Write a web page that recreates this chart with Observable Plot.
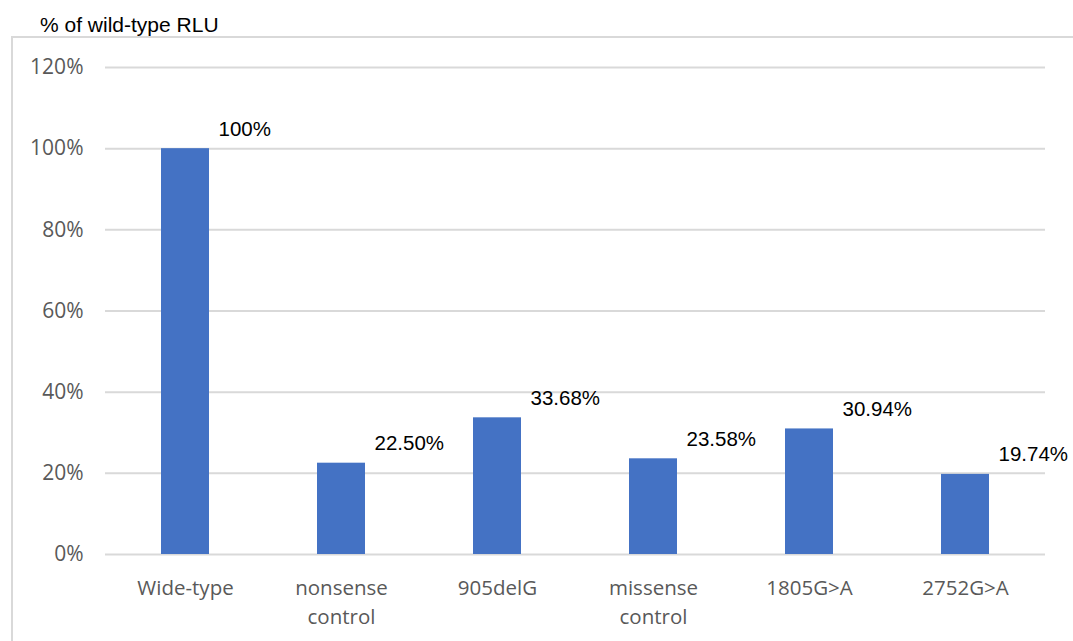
<!DOCTYPE html>
<html>
<head>
<meta charset="utf-8">
<script src="https://cdn.jsdelivr.net/npm/d3@7"></script>
<script src="https://cdn.jsdelivr.net/npm/@observablehq/plot@0.6"></script>
<style>
  html, body { margin: 0; padding: 0; background: #fff; overflow: hidden; }
  #wrap { position: relative; width: 1073px; height: 641px; }
  #frame { position: absolute; left: 11px; top: 36px; width: 1100px; height: 700px; border: 2px solid #d9d9d9; box-sizing: border-box; }
  #title { position: absolute; left: 40px; top: 14px; font-family: "Liberation Sans", Arial, sans-serif; font-size: 21px; line-height: 21px; color: #000; white-space: nowrap; }
  #chart { position: absolute; left: 0; top: 0; }
</style>
</head>
<body>
<div id="wrap">
  <div id="frame"></div>
  <div id="title">% of wild-type RLU</div>
  <div id="chart"></div>
</div>
<script>
const categories = ["Wide-type", "nonsense\ncontrol", "905delG", "missense\ncontrol", "1805G>A", "2752G>A"];
const values = [100, 22.5, 33.68, 23.58, 30.94, 19.74];
const valueLabels = ["100%", "22.50%", "33.68%", "23.58%", "30.94%", "19.74%"];
const yTicks = [0, 20, 40, 60, 80, 100, 120];

const data = categories.map((c, i) => ({category: c, value: values[i], label: valueLabels[i]}));

const chart = Plot.plot({
  width: 1073,
  height: 641,
  marginLeft: 105,
  marginRight: 28,
  marginTop: 67,
  marginBottom: 87,
  style: {background: "transparent", overflow: "visible"},
  x: {domain: categories, paddingInner: 0.69, paddingOuter: 0.345, label: null},
  y: {domain: [0, 120], label: null},
  marks: [
    Plot.ruleY(yTicks, {stroke: "#d9d9d9", strokeWidth: 2}),
    Plot.barY(data, {x: "category", y: "value", fill: "#4472c4"}),
    Plot.axisY({ticks: yTicks, tickFormat: d => d + "%", tickSize: 0, tickPadding: 22, fontSize: 21, fontFamily: "'Open Sans', sans-serif", fill: "#595959", label: null}),
    Plot.axisX({tickSize: 0, tickPadding: 19, fontSize: 20.5, fontFamily: "'Open Sans', sans-serif", fill: "#595959", lineHeight: 1.45, label: null}),
    Plot.text(data, {x: "category", y: "value", text: "label", textAnchor: "start", lineAnchor: "bottom", dx: 33, dy: -13, fontSize: 20.5, fontFamily: "'Liberation Sans', Arial, sans-serif", fill: "#000"})
  ]
});
document.getElementById("chart").appendChild(chart);
</script>
</body>
</html>
